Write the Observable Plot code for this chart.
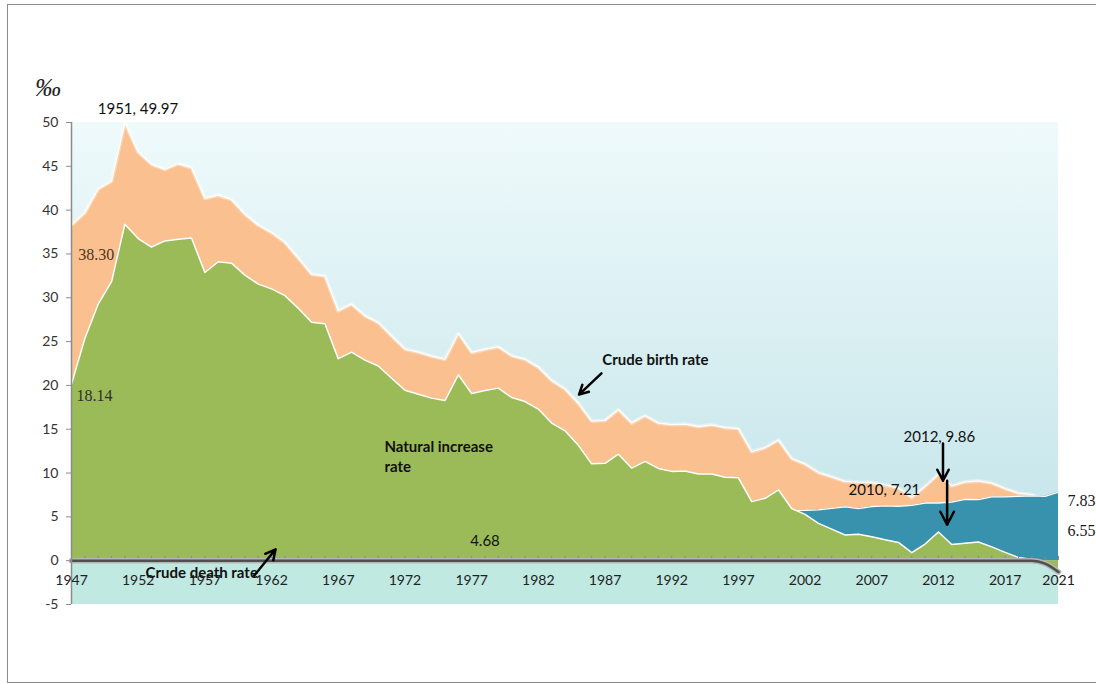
<!DOCTYPE html>
<html>
<head>
<meta charset="utf-8">
<script src="https://cdn.jsdelivr.net/npm/d3@7"></script>
<script src="https://cdn.jsdelivr.net/npm/@observablehq/plot@0.6"></script>
<style>
  html, body { margin: 0; padding: 0; background: #fff; }
  #wrap { position: relative; width: 1096px; height: 684px; overflow: hidden; }
  #border { position: absolute; left: 7px; top: 4px; width: 1110px; height: 679px;
            border: 1.5px solid #8c8c8c; box-sizing: border-box; pointer-events: none; }
  svg { overflow: visible; }
</style>
</head>
<body>
<div id="wrap"><div id="chart"></div><div id="border"></div></div>
<script>
// ---- Data (‰) ----
const years = d3.range(1947, 2022);
const birth = [38.30, 39.71, 42.42, 43.29, 49.97, 46.62, 45.22, 44.64, 45.29, 44.84,
  41.35, 41.70, 41.19, 39.53, 38.29, 37.44, 36.31, 34.53, 32.68, 32.47,
  28.53, 29.27, 27.94, 27.16, 25.64, 24.15, 23.79, 23.33, 22.98, 25.93,
  23.76, 24.10, 24.40, 23.38, 22.97, 22.08, 20.56, 19.59, 17.96, 15.93,
  16.01, 17.24, 15.72, 16.55, 15.70, 15.53, 15.58, 15.31, 15.50, 15.18,
  15.07, 12.43, 12.89, 13.76, 11.65, 11.02, 10.06, 9.56, 9.06, 8.96,
  8.92, 8.64, 8.29, 7.21, 8.48, 9.86, 8.53, 8.99, 9.10, 8.86,
  8.23, 7.70, 7.53, 7.01, 6.55];
const death = [18.14, 14.35, 13.14, 11.46, 11.57, 9.86, 9.43, 8.15, 8.60, 8.03,
  8.47, 7.59, 7.24, 6.95, 6.73, 6.42, 6.06, 5.73, 5.46, 5.43,
  5.48, 5.47, 5.05, 4.94, 4.82, 4.70, 4.80, 4.78, 4.71, 4.72,
  4.68, 4.68, 4.71, 4.76, 4.81, 4.78, 4.86, 4.77, 4.80, 4.88,
  4.90, 5.09, 5.15, 5.21, 5.17, 5.34, 5.34, 5.43, 5.60, 5.67,
  5.61, 5.69, 5.77, 5.67, 5.71, 5.73, 5.80, 5.96, 6.13, 5.95,
  6.18, 6.25, 6.21, 6.30, 6.58, 6.58, 6.68, 6.99, 6.97, 7.28,
  7.28, 7.33, 7.39, 7.34, 7.83];
const natural = [20.16, 25.36, 29.28, 31.83, 38.40, 36.76, 35.79, 36.49, 36.69, 36.81,
  32.88, 34.11, 33.95, 32.58, 31.56, 31.02, 30.25, 28.80, 27.22, 27.04,
  23.05, 23.80, 22.89, 22.22, 20.82, 19.45, 18.99, 18.55, 18.27, 21.21,
  19.08, 19.42, 19.69, 18.62, 18.16, 17.30, 15.70, 14.82, 13.16, 11.05,
  11.11, 12.15, 10.57, 11.34, 10.53, 10.19, 10.24, 9.88, 9.90, 9.51,
  9.46, 6.74, 7.12, 8.09, 5.94, 5.29, 4.26, 3.60, 2.93, 3.01,
  2.74, 2.39, 2.08, 0.91, 1.90, 3.28, 1.85, 2.00, 2.13, 1.58,
  0.95, 0.37, 0.14, -0.33, -1.28];
const xTicks = [1947, 1952, 1957, 1962, 1967, 1972, 1977, 1982, 1987, 1992, 1997, 2002, 2007, 2012, 2017, 2021];
const yTicks = [-5, 0, 5, 10, 15, 20, 25, 30, 35, 40, 45, 50];
const xDomain = [1947, 2021];
const yDomain = [-5, 50];

const data = years.map((year, i) => ({year, birth: birth[i], death: death[i], natural: natural[i]}));

// annotations in data coordinates
const sansLabels = [
  {text: "1951, 49.97", x: 1951.98, y: 51.5, anchor: "middle"},
  {text: "2012, 9.86", x: 2012.07, y: 14.08, anchor: "start"},
  {text: "2010, 7.21", x: 2007.95, y: 8.1, anchor: "start"},
  {text: "4.68", x: 1978.0, y: 2.28, anchor: "middle"}
];
const boldLabels = [
  {text: "Crude birth rate", x: 1986.8, y: 23.06},
  {text: "Natural increase\nrate", x: 1970.46, y: 12.0},
  {text: "Crude death rate", x: 1952.55, y: -1.25}
];
const serifLabels = [
  {text: "38.30", x: 1947.5, y: 34.9, color: "#4a3522"},
  {text: "18.14", x: 1947.37, y: 18.84, color: "#2e2e2e"},
  {text: "7.83", x: 2021.67, y: 6.85, color: "#1a1a1a"},
  {text: "6.55", x: 2021.67, y: 3.42, color: "#1a1a1a"}
];
const arrows = [
  {x1: 1986.73, y1: 21.38, x2: 1985.05, y2: 18.95},
  {x1: 1960.7, y1: -1.7, x2: 1962.3, y2: 1.3},
  {x1: 2012.34, y1: 13.36, x2: 2012.34, y2: 9.13},
  {x1: 2012.65, y1: 9.13, x2: 2012.65, y2: 4.1}
];

const defs = () => {
  const d = d3.create("svg:defs");
  const g = d.append("linearGradient").attr("id", "bgGrad")
    .attr("x1", 0).attr("y1", 0).attr("x2", 0).attr("y2", 1);
  g.append("stop").attr("offset", "0%").attr("stop-color", "#effafb");
  g.append("stop").attr("offset", "100%").attr("stop-color", "#c2e4e9");
  return d.node();
};

const chart = Plot.plot({
  width: 1096,
  height: 684,
  marginLeft: 71,
  marginRight: 38,
  marginTop: 122,
  marginBottom: 80,
  x: {domain: xDomain, axis: null},
  y: {domain: yDomain, axis: null},
  style: {fontFamily: "Lato, 'Noto Sans', sans-serif", background: "transparent", overflow: "visible"},
  marks: [
    defs,
    Plot.rect([0], {x1: xDomain[0], x2: xDomain[1], y1: 0, y2: yDomain[1], fill: "url(#bgGrad)"}),
    Plot.rect([0], {x1: xDomain[0], x2: xDomain[1], y1: yDomain[0], y2: 0, fill: "#c0e9e2"}),
    // crude birth rate
    Plot.areaY(data, {x: "year", y1: 0, y2: "birth", fill: "#fac090"}),
    Plot.lineY(data, {x: "year", y: "birth", stroke: "#ffffff", strokeWidth: 4, strokeOpacity: 0.35}),
    Plot.lineY(data, {x: "year", y: "birth", stroke: "#ffffff", strokeWidth: 1.3}),
    // crude death rate
    Plot.areaY(data, {x: "year", y1: 0, y2: "death", fill: "#3892ae"}),
    Plot.lineY(data, {x: "year", y: "death", stroke: "#ffffff", strokeWidth: 1.3}),
    // natural increase rate
    Plot.areaY(data, {x: "year", y1: 0, y2: "natural", fill: "#9bbb59"}),
    Plot.lineY(data, {x: "year", y: "natural", stroke: "#ffffff", strokeWidth: 1.5}),
    // minor year ticks on zero line
    Plot.ruleX(years, {x: d => d, y1: 0, y2: 0.5, stroke: "#8a8a8a", strokeWidth: 1}),
    // zero line
    Plot.lineY(data, {x: "year", y: d => Math.min(0, d.natural), stroke: "#b5b5b5", strokeWidth: 5.5, curve: "monotone-x"}),
    Plot.lineY(data, {x: "year", y: d => Math.min(0, d.natural), stroke: "#4f4f4f", strokeWidth: 2.5, curve: "monotone-x"}),
    // y axis
    Plot.ruleX([xDomain[0]], {y1: yDomain[0], y2: yDomain[1], stroke: "#8c8c8c", strokeWidth: 1.5}),
    Plot.axisY({ticks: yTicks, tickSize: 5, tickPadding: 8, tickFormat: d => String(d), label: null,
                fontSize: 14, stroke: "#8c8c8c", fill: "#333"}),
    // x tick labels
    Plot.text(xTicks, {x: d => d, y: 0, dy: 20, text: d => String(d), fontSize: 14, fill: "#222"}),
    // unit
    Plot.text(["‰"], {x: 1945.24, y: 54.0, text: d => d, fontSize: 26, fontFamily: "'Liberation Serif', serif",
                      fontStyle: "italic", fill: "#222"}),
    // annotations
    Plot.text(sansLabels, {x: "x", y: "y", text: "text", textAnchor: "anchor", fontSize: 15, fill: "#111"}),
    Plot.text(boldLabels, {x: "x", y: "y", text: "text", textAnchor: "start", fontSize: 15, fontWeight: "bold",
                           fill: "#111", lineHeight: 1.35, lineAnchor: "middle"}),
    Plot.text(serifLabels, {x: "x", y: "y", text: "text", textAnchor: "start", fontSize: 16,
                            fontFamily: "'Liberation Serif', serif", fill: "color"}),
    Plot.arrow(arrows, {x1: "x1", y1: "y1", x2: "x2", y2: "y2", stroke: "#000", strokeWidth: 2.5,
                        headLength: 11, headAngle: 55})
  ]
});
document.getElementById("chart").appendChild(chart);
</script>
</body>
</html>
